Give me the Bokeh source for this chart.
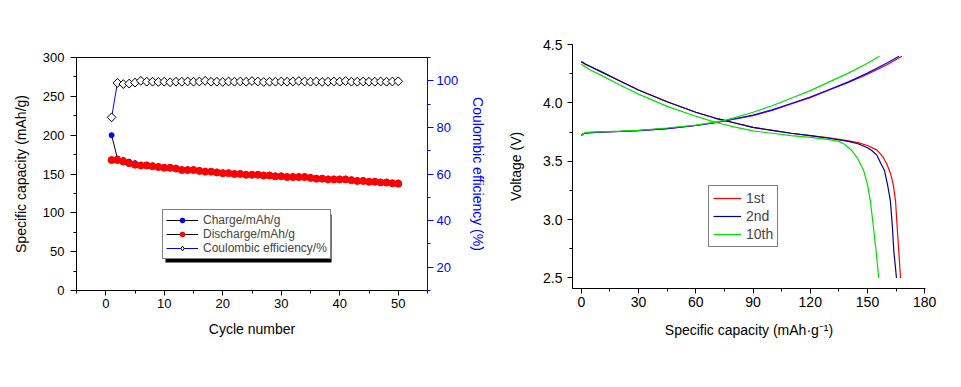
import numpy as np
from bokeh.plotting import figure
from bokeh.models import (Range1d, LinearAxis, SingleIntervalTicker, Legend, LegendItem,
                          PrintfTickFormatter, BoxAnnotation)
from bokeh.layouts import row
from bokeh.embed import file_html
from bokeh.resources import INLINE

FONT = "Liberation Sans"

# ---------------- left chart data ----------------
cycles = list(range(1, 51))
charge = [200, 170, 168, 166, 164, 162, 162, 161, 160, 159,
          159, 158, 156, 156, 156, 155, 154, 154, 153, 152,
          152, 151, 151, 150, 150, 150, 149, 149, 148, 148,
          147, 147, 147, 147, 146, 145, 145, 144, 144, 144,
          144, 143, 142, 142, 141, 141, 140, 140, 139, 139]
discharge = [168, 168, 166, 164, 162, 161, 161, 160, 159, 158,
             158, 157, 155, 155, 155, 154, 153, 153, 152, 151,
             151, 150, 150, 149, 149, 149, 148, 148, 147, 147,
             146, 146, 146, 146, 145, 144, 144, 143, 143, 143,
             143, 142, 141, 141, 140, 140, 139, 139, 138, 137.5]
ce = [84.3, 99.1, 98.6, 98.8, 99.2, 100.0, 99.6, 99.6, 99.5, 99.6,
      99.4, 99.6, 99.6, 99.7, 99.6, 99.7, 100.0, 99.6, 99.6, 99.5,
      99.7, 99.6, 99.7, 99.6, 99.9, 99.7, 99.5, 99.6, 99.6, 99.7,
      99.6, 99.7, 99.9, 99.7, 99.6, 99.7, 99.5, 99.6, 99.7, 99.6,
      99.9, 99.6, 99.6, 99.7, 99.6, 99.6, 99.7, 99.6, 99.7, 99.8]

# ---------------- right chart data ----------------
ch1_x = [0, 1, 2, 5, 10, 20, 30, 45, 60, 70, 75, 80, 90, 100, 110, 120, 130, 140, 150, 160, 168]
ch1_v = [3.72, 3.735, 3.74, 3.745, 3.75, 3.755, 3.763, 3.78, 3.806, 3.83, 3.845, 3.86, 3.89,
         3.935, 3.99, 4.045, 4.11, 4.175, 4.245, 4.325, 4.40]
ch2_x = [0, 1, 2, 5, 10, 20, 30, 45, 60, 70, 75, 80, 90, 100, 110, 120, 130, 140, 150, 160, 166.5]
ch2_v = [3.72, 3.735, 3.74, 3.745, 3.75, 3.755, 3.763, 3.78, 3.806, 3.83, 3.845, 3.862, 3.895,
         3.94, 3.995, 4.05, 4.115, 4.18, 4.255, 4.34, 4.40]
ch10_x = [0, 1, 2, 5, 10, 20, 30, 45, 60, 70, 75, 80, 90, 100, 110, 120, 130, 140, 150, 156.3]
ch10_v = [3.72, 3.735, 3.745, 3.75, 3.752, 3.758, 3.765, 3.785, 3.81, 3.835, 3.85, 3.872, 3.92,
          3.975, 4.04, 4.105, 4.18, 4.255, 4.34, 4.40]

dis1_x = [0, 2, 5, 10, 20, 30, 45, 60, 70, 75, 80, 90, 100, 110, 120, 130, 140, 145, 150,
          155, 158, 160, 162, 163.5, 164.7, 165.5, 166.4, 167.3]
dis1_v = [4.35, 4.33, 4.31, 4.27, 4.19, 4.11, 4.01, 3.92, 3.87, 3.85, 3.83, 3.79, 3.765, 3.74,
          3.72, 3.70, 3.675, 3.66, 3.635, 3.595, 3.54, 3.48, 3.40, 3.30, 3.16, 2.95, 2.73, 2.50]
dis2_x = [0, 2, 5, 10, 20, 30, 45, 60, 70, 75, 80, 90, 100, 110, 120, 130, 140, 145, 150,
          152.4, 155, 157, 158.9, 160.5, 162, 163, 163.8, 165.2]
dis2_v = [4.355, 4.335, 4.31, 4.27, 4.19, 4.11, 4.01, 3.92, 3.87, 3.85, 3.83, 3.79, 3.765, 3.74,
          3.72, 3.697, 3.67, 3.65, 3.615, 3.59, 3.55, 3.48, 3.42, 3.30, 3.16, 2.95, 2.73, 2.50]
dis10_x = [0, 2, 5, 10, 20, 30, 45, 60, 70, 75, 80, 90, 100, 110, 120, 130, 135, 138, 141.9,
           145, 148, 150, 151.5, 153, 154.5, 155.9]
dis10_v = [4.33, 4.31, 4.28, 4.24, 4.155, 4.075, 3.97, 3.885, 3.835, 3.815, 3.795, 3.76, 3.74,
           3.72, 3.705, 3.685, 3.67, 3.645, 3.59, 3.52, 3.42, 3.30, 3.16, 2.95, 2.73, 2.50]


def style_axis(ax, size="13px", color="black"):
    ax.axis_line_color = color
    ax.major_tick_line_color = color
    ax.minor_tick_line_color = color
    ax.major_label_text_color = color
    ax.axis_label_text_color = color
    ax.major_label_text_font = FONT
    ax.axis_label_text_font = FONT
    ax.major_label_text_font_size = size
    ax.axis_label_text_font_size = "14px"
    ax.axis_label_text_font_style = "normal"
    ax.major_tick_out = 6
    ax.major_tick_in = 0
    ax.minor_tick_out = 3
    ax.minor_tick_in = 0


# ---------------- left figure ----------------
p1 = figure(width=489, height=380,
            x_range=Range1d(-5, 55), y_range=Range1d(0, 300),
            output_backend="svg", toolbar_location=None, frame_align=False,
            min_border_left=76, min_border_right=60, min_border_top=57, min_border_bottom=90)
p1.extra_y_ranges = {"ce": Range1d(10, 110)}
p1.xgrid.visible = False
p1.ygrid.visible = False
p1.outline_line_color = "black"

p1.xaxis.ticker = SingleIntervalTicker(interval=10, num_minor_ticks=2)
p1.yaxis.ticker = SingleIntervalTicker(interval=50, num_minor_ticks=2)
p1.xaxis.axis_label = "Cycle number"
p1.yaxis.axis_label = "Specific capacity (mAh/g)"
style_axis(p1.xaxis[0])
style_axis(p1.yaxis[0])
p1.xaxis.major_tick_out = 5
p1.xaxis.major_label_standoff = 3
p1.xaxis.axis_label_standoff = 10
p1.yaxis.major_label_standoff = 6
p1.yaxis.axis_label_standoff = 11

rax = LinearAxis(y_range_name="ce", ticker=SingleIntervalTicker(interval=20, num_minor_ticks=2),
                 axis_label="Coulombic efficiency (%)")
style_axis(rax, color="#0000FF")
rax.major_label_standoff = 3
rax.axis_label_standoff = 9
p1.add_layout(rax, "right")

l_ch = p1.line(cycles, charge, line_color="black", line_width=1)
s_ch = p1.scatter(cycles, charge, marker="circle", size=5, fill_color="#0000FF", line_color="#0000FF")
l_dis = p1.line(cycles, discharge, line_color="black", line_width=1)
s_dis = p1.scatter(cycles, discharge, marker="circle", size=7, fill_color="#FF0000", line_color="#FF0000")
l_ce = p1.line(cycles, ce, line_color="#0000FF", line_width=1, y_range_name="ce")
# diamond used by the legend; drawn underneath (hidden by) the open square-diamonds
s_ce_leg = p1.scatter(cycles, ce, marker="diamond", size=8, fill_color="white",
                      line_color="black", line_width=1, y_range_name="ce")
s_ce = p1.scatter(cycles, ce, marker="square", angle=np.pi / 4, size=6.2, fill_color="white",
                  line_color="black", line_width=1, y_range_name="ce")

# legend drop shadow (decoration)
p1.add_layout(BoxAnnotation(left=10.2, right=38.6, top=97.8, bottom=36.0,
                            fill_color="black", fill_alpha=1, line_color=None))

leg1 = Legend(items=[LegendItem(label="Charge/mAh/g", renderers=[l_ch, s_ch]),
                     LegendItem(label="Discharge/mAh/g", renderers=[l_dis, s_dis]),
                     LegendItem(label="Coulombic efficiency/%", renderers=[l_ce, s_ce_leg])],
              location=(86, 31))
leg1.background_fill_color = "white"
leg1.background_fill_alpha = 1
leg1.border_line_color = "black"
leg1.border_line_width = 1
leg1.label_text_font = FONT
leg1.label_text_font_size = "12px"
leg1.glyph_width = 32
leg1.glyph_height = 12
leg1.label_height = 12
leg1.spacing = 0
leg1.padding = 3
leg1.margin = 0
leg1.label_standoff = 5
p1.add_layout(leg1, "center")

# ---------------- right figure ----------------
p2 = figure(width=466, height=380,
            x_range=Range1d(-4.6, 180.4), y_range=Range1d(2.41, 4.5),
            output_backend="svg", toolbar_location=None, frame_align=False,
            min_border_left=83, min_border_right=30, min_border_top=44, min_border_bottom=92)
p2.xgrid.visible = False
p2.ygrid.visible = False
p2.outline_line_color = None
p2.xaxis.ticker = SingleIntervalTicker(interval=30, num_minor_ticks=2)
p2.yaxis.ticker = SingleIntervalTicker(interval=0.5, num_minor_ticks=2)
p2.yaxis.formatter = PrintfTickFormatter(format="%.1f")
p2.xaxis.axis_label = "Specific capacity (mAh\u00b7g\u207b\u00b9)"
p2.yaxis.axis_label = "Voltage (V)"
style_axis(p2.xaxis[0], size="14px")
style_axis(p2.yaxis[0], size="14px")
p2.xaxis.major_tick_out = 5
p2.yaxis.major_tick_out = 5
p2.xaxis.major_label_standoff = 3
p2.xaxis.axis_label_standoff = 12
p2.yaxis.major_label_standoff = 5
p2.yaxis.axis_label_standoff = 16

RED, BLUE, NAVY, GREEN = "#FF0000", "#0000FF", "#000090", "#00E000"
r1 = p2.line(ch1_x, ch1_v, line_color=RED, line_width=1.2)
p2.line(dis1_x, dis1_v, line_color=RED, line_width=1.2)
r2 = p2.line(dis2_x, dis2_v, line_color=NAVY, line_width=1.2)
p2.line(ch2_x, ch2_v, line_color=BLUE, line_width=1.2)
r10 = p2.line(ch10_x, ch10_v, line_color=GREEN, line_width=1.2)
p2.line(dis10_x, dis10_v, line_color=GREEN, line_width=1.2)

leg2 = Legend(items=[LegendItem(label="1st", renderers=[r1]),
                     LegendItem(label="2nd", renderers=[r2]),
                     LegendItem(label="10th", renderers=[r10])],
              location=(136, 41))
leg2.background_fill_color = "white"
leg2.border_line_color = "black"
leg2.label_text_font = FONT
leg2.label_text_font_size = "14px"
leg2.glyph_width = 28
leg2.glyph_height = 16
leg2.label_height = 16
leg2.spacing = 2
leg2.padding = 4
leg2.margin = 0
leg2.label_standoff = 5
p2.add_layout(leg2, "center")

layout = row(p1, p2)
open("out.html", "w").write(file_html(layout, INLINE))
